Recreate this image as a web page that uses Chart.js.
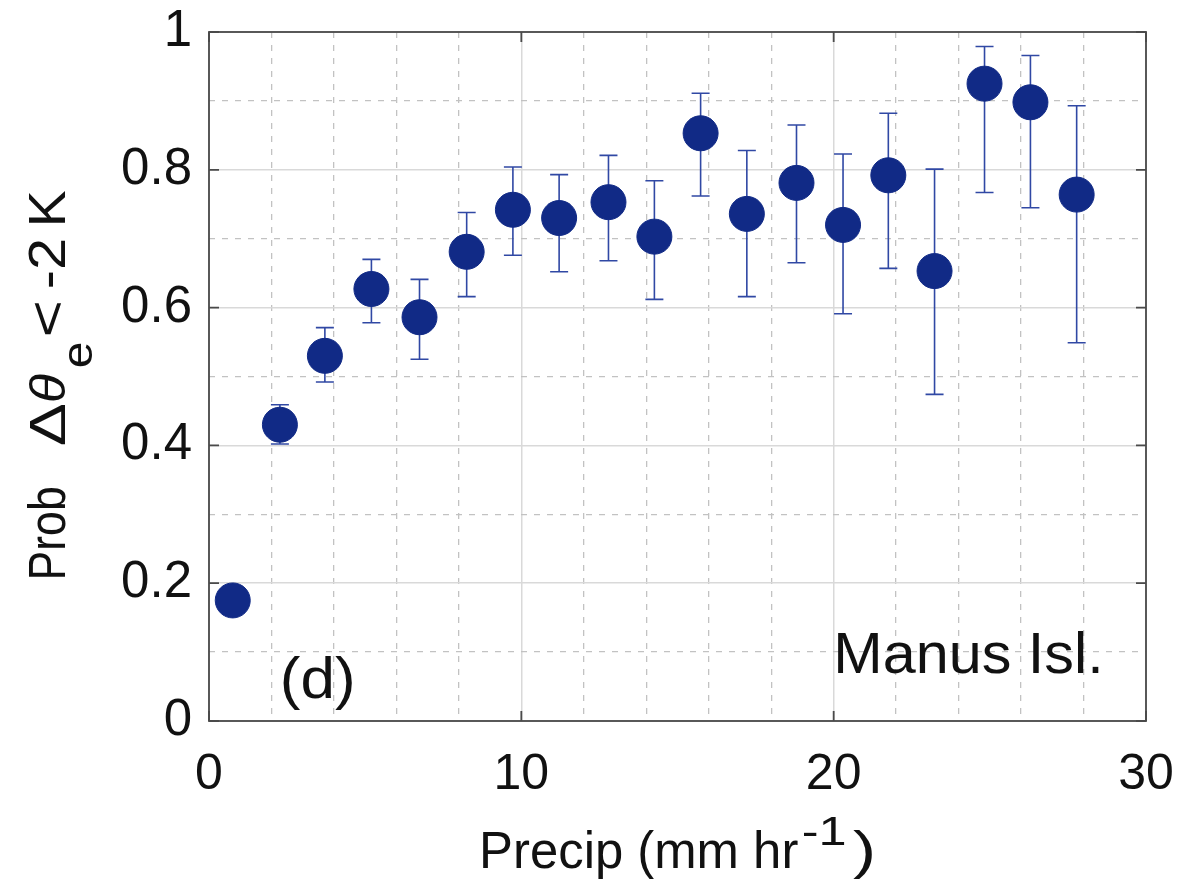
<!DOCTYPE html>
<html>
<head>
<meta charset="utf-8">
<script src="https://cdn.jsdelivr.net/npm/chart.js@4.4.1/dist/chart.umd.min.js"></script>
<style>
  html, body { margin: 0; padding: 0; background: #fff; }
  canvas { display: block; }
</style>
</head>
<body>
<canvas id="chart" width="1179" height="883"></canvas>
<script>
// Manus Isl. - probability of theta_e drop vs rain rate (panel d)
const precip = [0.76, 2.27, 3.71, 5.20, 6.74, 8.25, 9.73, 11.21, 12.79, 14.26, 15.74, 17.22, 18.81, 20.30, 21.75, 23.23, 24.83, 26.30, 27.78];
const prob = [0.175, 0.430, 0.530, 0.627, 0.586, 0.681, 0.742, 0.730, 0.753, 0.703, 0.853, 0.736, 0.781, 0.720, 0.792, 0.653, 0.925, 0.898, 0.764];
const errHigh = [0.195, 0.459, 0.571, 0.670, 0.641, 0.738, 0.804, 0.793, 0.821, 0.784, 0.911, 0.828, 0.865, 0.823, 0.882, 0.801, 0.979, 0.966, 0.893];
const errLow = [0.155, 0.402, 0.492, 0.578, 0.525, 0.616, 0.676, 0.652, 0.668, 0.612, 0.762, 0.616, 0.665, 0.591, 0.657, 0.474, 0.767, 0.745, 0.549];

const FONT = 'Liberation Sans, Arial, Helvetica, sans-serif';
const NAVY = '#112a86';

const isMajorX = v => v % 10 === 0;
const isMajorY = v => Math.round(v * 10) % 2 === 0;

// draw text so that its ink spans x0..x1 on the current baseline
function fitText(ctx, text, font, x0, x1, y) {
  ctx.font = font;
  const m = ctx.measureText(text);
  const ink = m.actualBoundingBoxLeft + m.actualBoundingBoxRight;
  const s = (x1 - x0) / ink;
  ctx.save();
  ctx.translate(x0, y || 0);
  ctx.scale(s, 1);
  ctx.fillText(text, m.actualBoundingBoxLeft, 0);
  ctx.restore();
}

const frame = {
  id: 'frame',
  beforeDatasetsDraw(chart) {
    const { ctx, chartArea: a, scales: { x, y } } = chart;
    ctx.save();

    // error bars
    ctx.strokeStyle = '#3048a4';
    ctx.lineWidth = 1.6;
    precip.forEach((p, i) => {
      const px = x.getPixelForValue(p);
      const top = y.getPixelForValue(errHigh[i]);
      const bot = y.getPixelForValue(errLow[i]);
      ctx.beginPath();
      ctx.moveTo(px, top); ctx.lineTo(px, bot);
      ctx.moveTo(px - 9, top); ctx.lineTo(px + 9, top);
      ctx.moveTo(px - 9, bot); ctx.lineTo(px + 9, bot);
      ctx.stroke();
    });

    // box + inward ticks
    ctx.strokeStyle = '#4a4a4a';
    ctx.lineWidth = 1.8;
    ctx.strokeRect(a.left, a.top, a.right - a.left, a.bottom - a.top);
    ctx.beginPath();
    y.ticks.filter(t => isMajorY(t.value)).forEach(t => {
      const py = y.getPixelForValue(t.value);
      ctx.moveTo(a.left, py); ctx.lineTo(a.left + 10, py);
      ctx.moveTo(a.right, py); ctx.lineTo(a.right - 10, py);
    });
    x.ticks.filter(t => isMajorX(t.value)).forEach(t => {
      const px = x.getPixelForValue(t.value);
      ctx.moveTo(px, a.top); ctx.lineTo(px, a.top + 10);
      ctx.moveTo(px, a.bottom); ctx.lineTo(px, a.bottom - 10);
    });
    ctx.stroke();
    ctx.restore();
  },
  afterDraw(chart) {
    const { ctx, scales: { x, y } } = chart;
    ctx.save();
    ctx.fillStyle = '#111';
    ctx.textAlign = 'left';
    ctx.textBaseline = 'alphabetic';

    // panel annotations
    const dx = x.getPixelForValue(2.37), dy = y.getPixelForValue(0.034);
    fitText(ctx, '(d)', '58px ' + FONT, dx, dx + 69, dy);
    const mx = x.getPixelForValue(20.12), my = y.getPixelForValue(0.069);
    fitText(ctx, 'Manus Isl.', '58px ' + FONT, mx, mx + 261, my);

    // x axis title
    fitText(ctx, 'Precip (mm hr', '52px ' + FONT, 483, 798, 868);
    fitText(ctx, '-1', '40px ' + FONT, 803, 845, 845);
    fitText(ctx, ')', '52px ' + FONT, 853, 873, 868);

    // y axis title, rotated
    ctx.translate(65, 577);
    ctx.rotate(-Math.PI / 2);
    fitText(ctx, 'Prob', '52px ' + FONT, 0, 89);
    fitText(ctx, '\u0394', '50px ' + FONT, 132, 172);
    fitText(ctx, '\u03b8', 'italic 50px ' + FONT, 176, 203);
    fitText(ctx, 'e', '42px ' + FONT, 210, 234, 27);
    fitText(ctx, '<', '52px ' + FONT, 242, 274);
    fitText(ctx, '-2', '52px ' + FONT, 290, 337);
    fitText(ctx, 'K', '52px ' + FONT, 354, 387);
    ctx.restore();
  }
};

const ctx = document.getElementById('chart').getContext('2d');

new Chart(ctx, {
  type: 'scatter',
  data: {
    datasets: [{
      data: precip.map((p, i) => ({ x: p, y: prob[i] })),
      backgroundColor: NAVY,
      borderColor: NAVY,
      pointRadius: 17.5,
      pointHoverRadius: 17.5,
      pointBorderWidth: 1,
      clip: false
    }]
  },
  options: {
    responsive: false,
    animation: false,
    layout: { padding: { left: 0, top: 32, right: 33, bottom: 0 } },
    plugins: { legend: { display: false }, tooltip: { enabled: false } },
    scales: {
      x: {
        type: 'linear',
        min: 0,
        max: 30,
        afterFit: s => { s.height = 162; s.paddingLeft = 0; s.paddingRight = 0; },
        ticks: {
          stepSize: 2,
          autoSkip: false,
          maxRotation: 0,
          padding: 24,
          color: '#111',
          font: { family: FONT, size: 50 },
          callback: v => isMajorX(v) ? String(v) : ''
        },
        grid: {
          drawTicks: false,
          color: c => c.tick && isMajorX(c.tick.value) ? '#d9d9d9' : '#c2c2c2',
          lineWidth: c => c.tick && isMajorX(c.tick.value) ? 1.5 : 1.3
        },
        border: {
          display: false,
          dash: c => c.tick && !isMajorX(c.tick.value) ? [6, 7] : []
        }
      },
      y: {
        min: 0,
        max: 1,
        afterFit: s => { s.width = 209; s.paddingTop = 0; s.paddingBottom = 0; },
        ticks: {
          stepSize: 0.1,
          autoSkip: false,
          padding: 17,
          color: '#111',
          font: { family: FONT, size: 51 },
          callback: v => isMajorY(v) ? String(Math.round(v * 10) / 10) : ''
        },
        grid: {
          drawTicks: false,
          color: c => c.tick && isMajorY(c.tick.value) ? '#d9d9d9' : '#c2c2c2',
          lineWidth: c => c.tick && isMajorY(c.tick.value) ? 1.5 : 1.3
        },
        border: {
          display: false,
          dash: c => c.tick && !isMajorY(c.tick.value) ? [6, 7] : []
        }
      }
    }
  },
  plugins: [frame]
});
</script>
</body>
</html>
